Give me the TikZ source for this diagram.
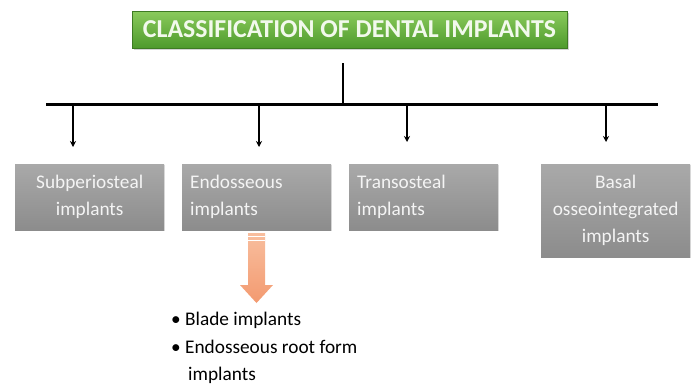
\documentclass[tikz,border=0pt]{standalone}
\usepackage{fontspec}
\setmainfont{Carlito}
\usetikzlibrary{arrows.meta,shadows}
\definecolor{gtop}{HTML}{8ACB5C}
\definecolor{gbot}{HTML}{4E9A2C}
\definecolor{gtext}{HTML}{F2F9EC}
\definecolor{btop}{HTML}{A9A9A9}
\definecolor{bbot}{HTML}{8C8C8C}
\definecolor{btext}{HTML}{F4F4F4}
\definecolor{otop}{HTML}{F8BE9E}
\definecolor{obot}{HTML}{F39A70}
\begin{document}
\begin{tikzpicture}[x=1pt,y=-1pt,
  titlebox/.style={rectangle, top color=gtop, bottom color=gbot, draw=gbot!80!black, line width=0.4pt,
    minimum width=435pt, minimum height=37pt, inner sep=0pt, text=gtext,
    font=\fontsize{25.8}{28}\selectfont\bfseries,
    drop shadow={shadow xshift=1.5pt, shadow yshift=-2pt, opacity=0.35}},
  graybox/.style={rectangle, top color=btop, bottom color=bbot, minimum width=149pt, inner sep=0pt,
    text=btext, font=\fontsize{19.3}{27}\selectfont, anchor=north west,
    drop shadow={shadow xshift=1pt, shadow yshift=-1pt, opacity=0.25}},
  leftbox/.style={graybox, align=left, text width=133pt},
  centbox/.style={graybox, align=center, text width=149pt},
  bar/.style={line width=3pt, black},
  stem/.style={line width=1.8pt, black},
  down/.style={line width=1.6pt, black, -{Stealth[length=6pt,width=6pt]}},
  bullets/.style={font=\fontsize{19.3}{27.5}\selectfont, align=left, anchor=north west, inner sep=0pt, text=black}
]
\useasboundingbox (0,0) rectangle (692,389);

% title
\node[titlebox] (title) at (349.5,29.5) {CLASSIFICATION OF DENTAL IMPLANTS};

% stem and bar
\coordinate (s0) at (343,63);
\coordinate (s1) at (343,104);
\coordinate (bl) at (46,104);
\coordinate (br) at (658,104);
\draw[stem] (s0) -- (s1);
\draw[bar] (bl) -- (br);

% boxes
\node[centbox, minimum height=66pt] (b1) at (15,164) {\rule{0pt}{3pt}Subperiosteal\\implants};
\node[leftbox, minimum height=66pt] (b2) at (182,164) {\rule{0pt}{3pt}Endosseous\\implants};
\node[leftbox, minimum height=66pt] (b3) at (349,164) {\rule{0pt}{3pt}Transosteal\\implants};
\node[centbox, minimum height=93pt] (b4) at (541,164) {\rule{0pt}{3pt}Basal\\osseointegrated\\implants};

% arrows from bar
\coordinate (a1) at (73,104);  \coordinate (t1) at (73,147);
\coordinate (a2) at (259,104); \coordinate (t2) at (259,147);
\coordinate (a3) at (407,104); \coordinate (t3) at (407,142);
\coordinate (a4) at (606,104); \coordinate (t4) at (606,142);
\draw[down] (a1) -- (t1);
\draw[down] (a2) -- (t2);
\draw[down] (a3) -- (t3);
\draw[down] (a4) -- (t4);

% orange block arrow
\shade[top color=otop, bottom color=obot]
  (248,233) -- (265,233) -- (265,285) -- (273,285) -- (256.5,303) -- (240,285) -- (248,285) -- cycle;
\draw[white, line width=0.8pt] (248,236.5) -- (265,236.5);
\draw[white, line width=0.8pt] (248,240.5) -- (265,240.5);

% bullet list
\node[bullets] (list) at (171,312) {• Blade implants\\• Endosseous root form\\\hspace*{17pt}implants};
\end{tikzpicture}
\end{document}
